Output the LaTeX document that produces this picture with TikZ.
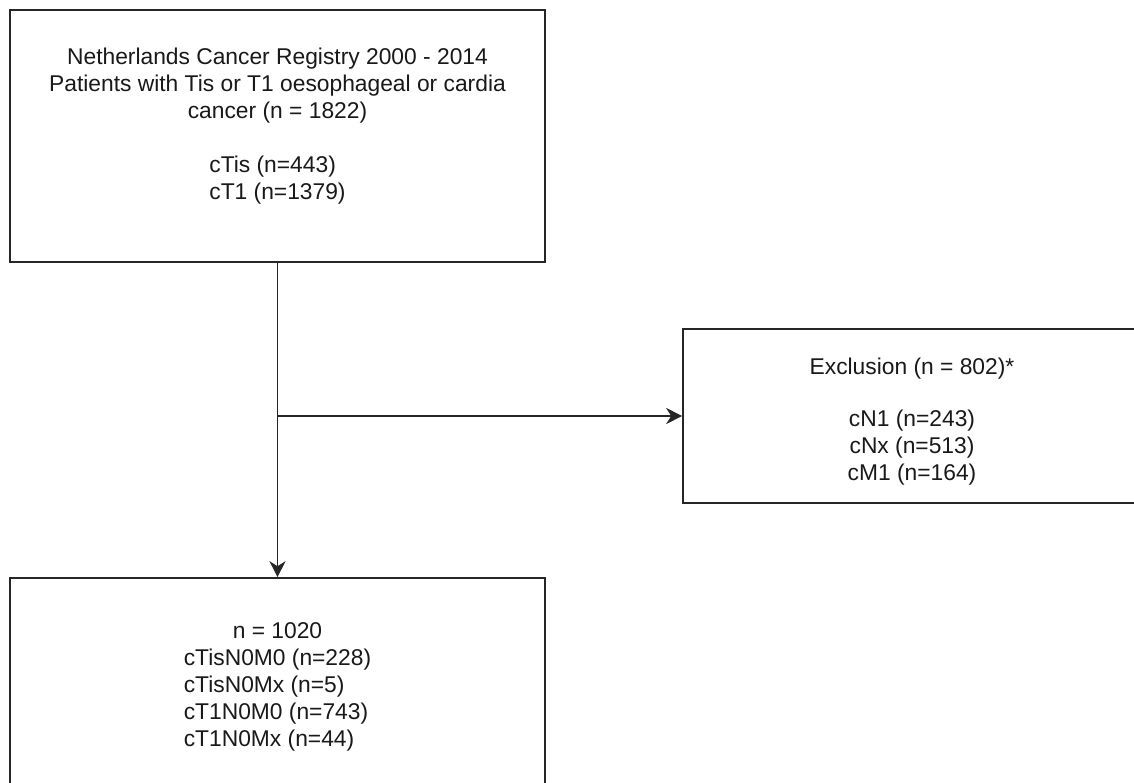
\documentclass[tikz,border=0pt]{standalone}
\usepackage{fontspec}
\setmainfont{Liberation Sans}
\usepackage{tikz}
\usetikzlibrary{arrows.meta, positioning, calc}

\begin{document}
\begin{tikzpicture}[
        x=1pt, y=-1pt,
        flowbox/.style={draw=black!85, line width=1.6pt, fill=white,
                        inner sep=0pt, align=center, text=black!90,
                        font=\fontsize{22.8}{27}\selectfont},
        arr/.style={-{Stealth[length=16pt, width=16pt, inset=5pt]}, black!85, line width=1.6pt}
      ]
        \useasboundingbox (0,0) rectangle (1134,783);
        \clip (0,0) rectangle (1134,783);
        \fill[white] (0,0) rectangle (1134,783);

        \node[flowbox, minimum width=535pt, minimum height=252pt] (reg) at (277.5,136)
          {Netherlands Cancer Registry 2000 - 2014\\
           Patients with Tis or T1 oesophageal or cardia\\
           cancer (n = 1822)\\ \mbox{}\\
           \begin{tabular}[t]{@{}l@{}}cTis (n=443)\\ cT1 (n=1379)\end{tabular}\\[16pt] \mbox{}};
        \node[flowbox, minimum width=458pt, minimum height=174pt] (excl) at (912,416)
          {\strut\\[-18pt] Exclusion (n = 802)*\\[25pt]
           cN1 (n=243)\\ cNx (n=513)\\ cM1 (n=164)};
        \node[flowbox, minimum width=535pt, minimum height=212pt] (incl) at (277.5,684)
          {\strut\\[-20pt] n = 1020\\
           \begin{tabular}[t]{@{}l@{}}cTisN0M0 (n=228)\\ cTisN0Mx (n=5)\\
           cT1N0M0 (n=743)\\ cT1N0Mx (n=44)\end{tabular}};

        \coordinate (br) at (reg.south |- excl.west);
        \draw[arr] (reg.south) -- (incl.north);
        \draw[arr] (br) -- (excl.west);
      \end{tikzpicture}
\end{document}
